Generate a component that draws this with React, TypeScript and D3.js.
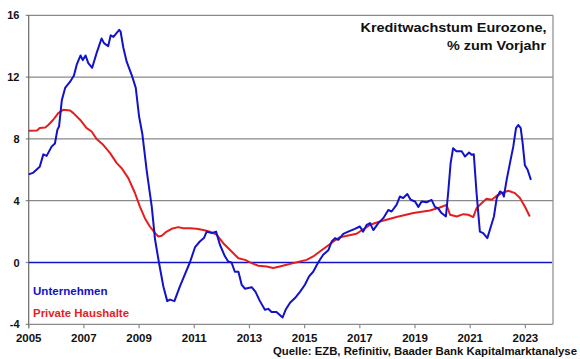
import React from "react";
import * as d3 from "d3";

const W = 580;
const H = 359;

const yTicks = [-4, 0, 4, 8, 12, 16];
const xTicks = [2005, 2007, 2009, 2011, 2013, 2015, 2017, 2019, 2021, 2023];

const seriesNames = ["Unternehmen", "Private Haushalte"];
const titleLines = ["Kreditwachstum Eurozone,", "% zum Vorjahr"];
const sourceText = "Quelle: EZB, Refinitiv, Baader Bank Kapitalmarktanalyse";

const blueYears = [
  2005.0, 2005.15, 2005.4, 2005.53, 2005.65, 2005.83, 2005.95, 2006.04, 2006.1, 2006.2,
  2006.32, 2006.5, 2006.64, 2006.74, 2006.88, 2006.96, 2007.06, 2007.16, 2007.3, 2007.46,
  2007.64, 2007.73, 2007.88, 2007.97, 2008.07, 2008.28, 2008.33, 2008.43, 2008.55, 2008.73,
  2008.88, 2009.0, 2009.12, 2009.28, 2009.46, 2009.58, 2009.72, 2009.88, 2010.02, 2010.12,
  2010.28, 2010.48, 2010.63, 2010.84, 2011.03, 2011.2, 2011.35, 2011.45, 2011.63, 2011.79,
  2011.93, 2012.11, 2012.23, 2012.35, 2012.47, 2012.6, 2012.72, 2012.84, 2012.96, 2013.08,
  2013.22, 2013.38, 2013.56, 2013.68, 2013.8, 2013.98, 2014.1, 2014.2, 2014.31, 2014.47,
  2014.65, 2014.83, 2015.01, 2015.16, 2015.31, 2015.49, 2015.67, 2015.86, 2015.98, 2016.1,
  2016.22, 2016.4, 2016.58, 2016.82, 2017.0, 2017.12, 2017.25, 2017.37, 2017.49, 2017.67,
  2017.85, 2018.03, 2018.15, 2018.33, 2018.45, 2018.57, 2018.72, 2018.84, 2019.0, 2019.12,
  2019.24, 2019.42, 2019.6, 2019.72, 2019.84, 2019.96, 2020.12, 2020.2, 2020.29, 2020.38,
  2020.5, 2020.69, 2020.81, 2020.96, 2021.05, 2021.13, 2021.23, 2021.35, 2021.47, 2021.62,
  2021.71, 2021.86, 2021.96, 2022.08, 2022.17, 2022.22, 2022.32, 2022.44, 2022.56, 2022.66,
  2022.74, 2022.83, 2022.9, 2022.98, 2023.08, 2023.2,
];
const blueValues = [
  5.7, 5.8, 6.2, 7.0, 6.9, 7.5, 7.7, 8.6, 8.8, 10.5,
  11.3, 11.7, 12.1, 12.8, 13.4, 13.1, 13.4, 12.9, 12.6, 13.55,
  14.5, 14.2, 14.0, 14.7, 14.6, 15.06, 14.95, 13.9, 13.0, 12.15,
  11.3, 9.45, 8.3, 5.9, 3.6, 1.47, 0.0, -1.55, -2.5, -2.4,
  -2.5, -1.55, -0.9, 0.0, 1.0, 1.36, 1.58, 2.0, 1.9, 2.0,
  1.15, 0.4, 0.06, 0.0, -0.6, -0.6, -1.45, -1.7, -1.65, -1.6,
  -1.9, -2.5, -3.06, -3.0, -3.2, -3.2, -3.4, -3.56, -3.06, -2.6,
  -2.3, -1.9, -1.44, -0.9, -0.6, 0.0, 0.5, 0.8, 1.36, 1.58,
  1.47, 1.85, 2.0, 2.18, 2.33, 2.0, 2.44, 2.55, 2.1, 2.55,
  2.87, 3.4, 3.3, 3.73, 4.27, 4.17, 4.43, 4.06, 3.95, 3.6,
  3.95, 3.9, 4.05, 3.6, 3.5, 3.2, 2.98, 4.5, 6.43, 7.4,
  7.2, 7.2, 6.86, 7.12, 6.97, 7.0, 4.5, 2.0, 1.9, 1.58,
  2.1, 2.98, 4.17, 4.6, 4.5, 4.27, 5.35, 6.43, 7.5, 8.7,
  8.9, 8.7, 7.73, 6.3, 6.0, 5.35,
];

const redYears = [
  2005.0, 2005.3, 2005.4, 2005.6, 2005.71, 2005.89, 2006.07, 2006.25, 2006.5, 2006.62,
  2006.86, 2007.1, 2007.28, 2007.46, 2007.7, 2007.95, 2008.19, 2008.37, 2008.61, 2008.85,
  2009.03, 2009.21, 2009.39, 2009.58, 2009.7, 2009.82, 2010.0, 2010.18, 2010.42, 2010.6,
  2010.84, 2011.09, 2011.33, 2011.57, 2011.81, 2012.05, 2012.29, 2012.47, 2012.6, 2012.84,
  2013.08, 2013.32, 2013.62, 2013.86, 2014.1, 2014.35, 2014.59, 2014.83, 2015.07, 2015.31,
  2015.55, 2015.8, 2016.04, 2016.28, 2016.88, 2017.37, 2017.73, 2018.33, 2018.94, 2019.54,
  2019.9, 2020.14, 2020.27, 2020.51, 2020.75, 2020.93, 2021.11, 2021.23, 2021.41, 2021.59,
  2021.78, 2021.96, 2022.14, 2022.38, 2022.62, 2022.8, 2022.98, 2023.16,
];
const redValues = [
  8.52, 8.54, 8.7, 8.74, 8.9, 9.24, 9.67, 9.88, 9.84, 9.67,
  9.24, 8.7, 8.48, 7.99, 7.62, 7.08, 6.43, 6.1, 5.46, 4.5,
  3.62, 2.87, 2.33, 1.9, 1.68, 1.73, 2.0, 2.18, 2.29, 2.22,
  2.22, 2.18, 2.1, 2.0, 1.8, 1.25, 0.82, 0.5, 0.28, 0.17,
  -0.04, -0.21, -0.26, -0.36, -0.26, -0.15, -0.04, 0.06, 0.17, 0.39,
  0.71, 1.04, 1.36, 1.64, 1.86, 2.44, 2.65, 2.94, 3.2, 3.37,
  3.56, 3.73, 3.09, 2.98, 3.13, 3.09, 2.94, 3.52, 3.84, 4.12,
  4.06, 4.32, 4.49, 4.64, 4.49, 4.17, 3.62, 2.98,
];

const BLUE = "#1212c8";
const RED = "#e41e1e";
const GRID = "#8a8a8a";
const FONT = "'Liberation Sans', Arial, Helvetica, sans-serif";

export default function App() {
  const left = 28.7;
  const right = 553;
  const top = 15.3;
  const bottom = 324.3;

  const x = d3.scaleLinear().domain([2005, 2024]).range([left, right]);
  const y = d3.scaleLinear().domain([-4, 16]).range([bottom, top]);

  const line = d3
    .line<[number, number]>()
    .x((d) => x(d[0]))
    .y((d) => y(d[1]));

  const bluePts = blueYears.map((yr, i) => [yr, blueValues[i]] as [number, number]);
  const redPts = redYears.map((yr, i) => [yr, redValues[i]] as [number, number]);

  return (
    <svg
      width={W}
      height={H}
      style={{ position: "absolute", left: 0, top: 0, background: "#fff" }}
      fontFamily={FONT}
    >
      {yTicks
        .filter((t) => t !== 0)
        .map((t) => (
          <line
            key={"g" + t}
            x1={left - 3}
            x2={right}
            y1={y(t)}
            y2={y(t)}
            stroke={GRID}
            strokeWidth={1.2}
          />
        ))}
      <line x1={right} x2={right} y1={top} y2={bottom} stroke={GRID} strokeWidth={1.2} />
      <line x1={left} x2={left} y1={top} y2={bottom + 4} stroke="#6a6a6a" strokeWidth={1.2} />
      <line x1={left - 3} x2={left} y1={y(0)} y2={y(0)} stroke={GRID} strokeWidth={1.2} />
      {xTicks.map((t) => (
        <line
          key={"xt" + t}
          x1={x(t)}
          x2={x(t)}
          y1={bottom}
          y2={bottom + 4}
          stroke={GRID}
          strokeWidth={1.2}
        />
      ))}
      <line x1={left} x2={right - 1} y1={y(0)} y2={y(0)} stroke={BLUE} strokeWidth={1.6} />

      <path d={line(redPts) || ""} fill="none" stroke={RED} strokeWidth={2} strokeLinejoin="round" />
      <path d={line(bluePts) || ""} fill="none" stroke={BLUE} strokeWidth={2} strokeLinejoin="round" />

      {yTicks.map((t) => (
        <text
          key={"yl" + t}
          x={19.5}
          y={y(t) + 4}
          textAnchor="end"
          fontSize={11}
          fontWeight="bold"
          fill="#111"
        >
          {t}
        </text>
      ))}
      {xTicks.map((t) => (
        <text
          key={"xl" + t}
          x={x(t)}
          y={342}
          textAnchor="middle"
          fontSize={11.5}
          fontWeight="bold"
          fill="#111"
        >
          {t}
        </text>
      ))}

      <text x={546.5} y={32} textAnchor="end" fontSize={13} fontWeight="bold" fill="#111" textLength={186} lengthAdjust="spacingAndGlyphs">
        {titleLines[0]}
      </text>
      <text x={546} y={49.5} textAnchor="end" fontSize={13} fontWeight="bold" fill="#111" textLength={99} lengthAdjust="spacingAndGlyphs">
        {titleLines[1]}
      </text>

      <text x={33} y={295} fontSize={11.5} fontWeight="bold" fill={BLUE} textLength={74.5} lengthAdjust="spacingAndGlyphs">
        {seriesNames[0]}
      </text>
      <text x={33} y={317} fontSize={11.5} fontWeight="bold" fill={RED} textLength={96} lengthAdjust="spacingAndGlyphs">
        {seriesNames[1]}
      </text>

      <text x={577} y={354.5} textAnchor="end" fontSize={11.5} fontWeight="bold" fill="#111" textLength={304} lengthAdjust="spacingAndGlyphs">
        {sourceText}
      </text>
    </svg>
  );
}
